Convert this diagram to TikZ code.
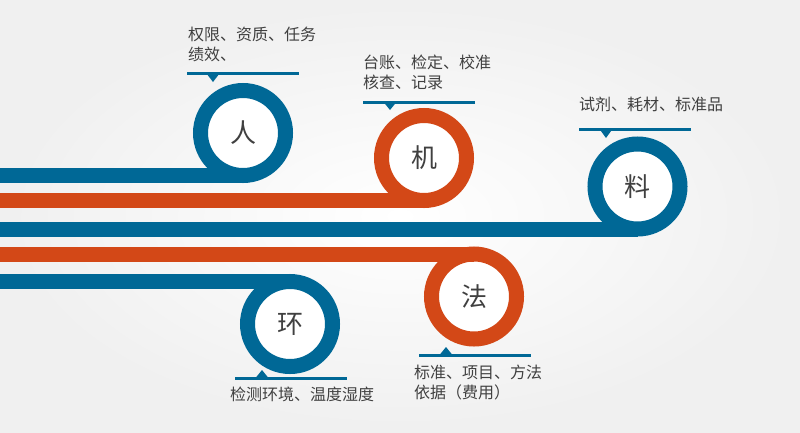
\documentclass[tikz,border=0pt]{standalone}
\usepackage{fontspec}
\setmainfont{Noto Sans CJK SC}
\definecolor{ringblue}{RGB}{0,104,150}
\definecolor{ringorange}{RGB}{211,72,23}
\definecolor{labelgray}{RGB}{64,64,64}

\begin{document}
\begin{tikzpicture}
[x=1pt, y=-1pt, font=\fontsize{16}{20}\selectfont, text=labelgray]

\tikzstyle{ring}=[circle, draw, line width=15pt, fill=white, inner sep=0pt, outer sep=0pt, minimum size=85pt, font=\fontsize{26}{30}\selectfont]
\tikzstyle{stripe}=[line width=15pt]
\tikzstyle{note}=[anchor=north west, inner sep=0pt, align=left]
\tikzstyle{bar}=[ringblue, line width=3pt]

\useasboundingbox (0,0) rectangle (800,432);
\shade[inner color=white, outer color=black!6] (0,0) rectangle (800,432);

% the five rings
\node[ring, draw=ringblue]   (ren)  at (243,133)     {人};
\node[ring, draw=ringorange] (ji)   at (424,158)     {机};
\node[ring, draw=ringblue]   (liao) at (637.5,186.5) {料};
\node[ring, draw=ringorange] (fa)   at (474,296.5)   {法};
\node[ring, draw=ringblue]   (huan) at (290,324)     {环};

% stripes from the left edge
\coordinate (s1) at (0,175.5);
\coordinate (s2) at (0,200.5);
\coordinate (s3) at (0,229);
\coordinate (s4) at (0,254);
\coordinate (s5) at (0,281.5);

\draw [stripe, ringblue]   (s1) -- (ren.south);
\draw [stripe, ringorange] (s2) -- (ji.south);
\draw [stripe, ringblue]   (s3) -- (liao.south);
\draw [stripe, ringorange] (s4) -- (fa.north);
\draw [stripe, ringblue]   (s5) -- (huan.north);

% notes above
\node[note] (renlabel)  at (188,27)  {权限、资质、任务\\绩效、};
\draw[bar] (187,73.5) -- (299,73.5);
\fill[ringblue] (206.5,73.5) -- (219.5,73.5) -- (213,82) -- cycle;

\node[note] (jilabel)   at (363,55)  {台账、检定、校准\\核查、记录};
\draw[bar] (363,102) -- (475,102);
\fill[ringblue] (383.5,102) -- (396.5,102) -- (390,110) -- cycle;

\node[note] (liaolabel) at (579,97)  {试剂、耗材、标准品};
\draw[bar] (579,129) -- (691,129);
\fill[ringblue] (599.5,129) -- (612.5,129) -- (606,138) -- cycle;

% notes below
\draw[bar] (419,355) -- (531,355);
\fill[ringblue] (439.5,355) -- (452.5,355) -- (446,347) -- cycle;
\node[note] (falabel)   at (414,365) {标准、项目、方法\\依据（费用）};

\draw[bar] (235,378) -- (347,378);
\fill[ringblue] (255.5,378) -- (268.5,378) -- (262,370) -- cycle;
\node[note] (huanlabel) at (230,387) {检测环境、温度湿度};
\end{tikzpicture}
\end{document}
